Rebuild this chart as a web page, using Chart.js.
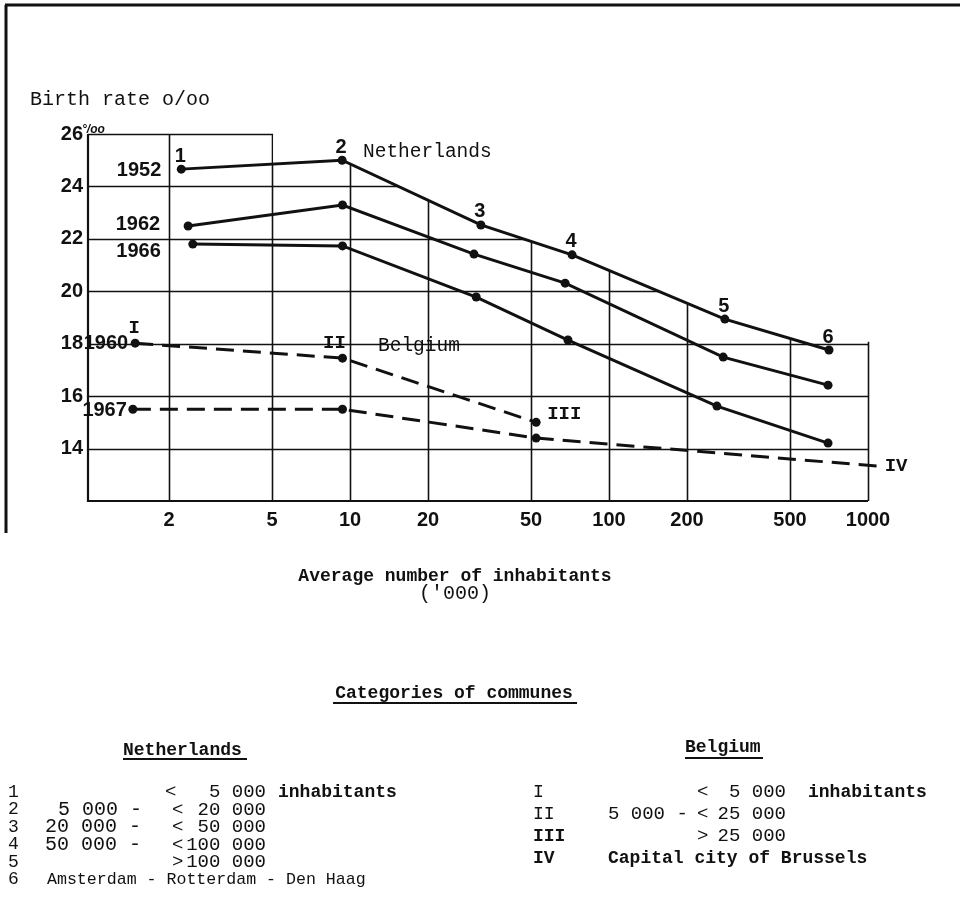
<!DOCTYPE html>
<html>
<head>
<meta charset="utf-8">
<script src="https://cdn.jsdelivr.net/npm/chart.js@4"></script>
<style>
  html, body { margin: 0; background: #fff; }
  canvas { display: block; }
</style>
</head>
<body>
<canvas id="birthChart" width="960" height="910"></canvas>
<script>
// x = average number of inhabitants ('000), y = birth rate per mille
const xTicks = [2, 5, 10, 20, 50, 100, 200, 500, 1000];

const nl1952X = [2.23, 9.32, 32.0, 72.0, 280, 707];
const nl1952Y = [24.66, 25.0, 22.53, 21.39, 18.94, 17.76];
const nl1962X = [2.37, 9.35, 30.1, 67.7, 276, 701];
const nl1962Y = [22.49, 23.29, 21.42, 20.31, 17.49, 16.42];
const nl1966X = [2.47, 9.35, 30.7, 69.4, 261, 701];
const nl1966Y = [21.8, 21.73, 19.78, 18.14, 15.62, 14.21];
const be1960X = [1.48, 9.35, 52.3];
const be1960Y = [18.02, 17.45, 15.0];
const be1967X = [1.45, 9.35, 52.3, 1090];
const be1967Y = [15.5, 15.5, 14.4, 13.33];

const nlCategories = ['1', '2', '3', '4', '5', '6'];
const beCategories = ['I', 'II', 'III', 'IV'];

const INK = '#111';
const MONO = "'Liberation Mono', 'DejaVu Sans Mono', monospace";
const NUM = "'Liberation Sans', Arial, sans-serif";

const pts = (xs, ys) => xs.map((x, i) => ({ x, y: ys[i] }));

function series(label, xs, ys, dashed) {
  return {
    label,
    data: pts(xs, ys),
    borderColor: INK,
    backgroundColor: INK,
    borderWidth: 3,
    borderDash: dashed ? [18, 9] : [],
    pointRadius: 4.5,
    pointBorderWidth: 0,
    pointBackgroundColor: INK,
    tension: 0,
    clip: false,
  };
}

// grid is only drawn below the 1952 curve plus the two framed boxes
const paperGrid = {
  id: 'paperGrid',
  beforeDraw(chart) {
    const { ctx } = chart;
    ctx.save();
    ctx.strokeStyle = INK;
    ctx.lineWidth = 3;
    ctx.beginPath();
    ctx.moveTo(5, 5); ctx.lineTo(960, 5);
    ctx.moveTo(6, 5); ctx.lineTo(6, 533);
    ctx.stroke();
    ctx.restore();
  },
  beforeDatasetsDraw(chart) {
    const { ctx, chartArea: a, scales: { x, y } } = chart;
    const top = chart.getDatasetMeta(0).data;
    const x5 = x.getPixelForValue(5);
    const x500 = x.getPixelForValue(500);
    const y18 = y.getPixelForValue(18);
    ctx.save();
    ctx.beginPath();
    ctx.rect(a.left - 2, a.top - 2, x5 - a.left + 3, a.bottom - a.top + 4);
    ctx.rect(x500 - 1, y18 - 2, a.right - x500 + 3, a.bottom - y18 + 4);
    ctx.moveTo(top[0].x, top[0].y);
    top.forEach(p => ctx.lineTo(p.x, p.y));
    ctx.lineTo(top[top.length - 1].x, a.bottom + 2);
    ctx.lineTo(top[0].x, a.bottom + 2);
    ctx.closePath();
    ctx.clip();
    ctx.strokeStyle = INK;
    ctx.lineWidth = 1.6;
    ctx.beginPath();
    for (let v = 14; v <= 26; v += 2) {
      const py = Math.round(y.getPixelForValue(v)) + 0.5;
      ctx.moveTo(a.left, py); ctx.lineTo(a.right, py);
    }
    xTicks.forEach(v => {
      const px = Math.round(x.getPixelForValue(v)) + 0.5;
      ctx.moveTo(px, a.top); ctx.lineTo(px, a.bottom);
    });
    ctx.stroke();
    ctx.restore();

    ctx.save();
    ctx.strokeStyle = INK;
    ctx.lineWidth = 2.2;
    ctx.beginPath();
    ctx.moveTo(a.left, a.top); ctx.lineTo(a.left, a.bottom);
    ctx.lineTo(a.right, a.bottom);
    ctx.stroke();
    ctx.restore();
  },
  afterDraw(chart) {
    const { ctx } = chart;
    const meta = i => chart.getDatasetMeta(i).data;
    const text = (s, px, py, font, align = 'left') => {
      ctx.font = font;
      ctx.textAlign = align;
      ctx.fillText(s, px, py);
    };
    ctx.save();
    ctx.fillStyle = INK;
    ctx.textBaseline = 'middle';

    const bold = 'bold 20px ' + NUM;
    // unit on the 26 tick
    text('°/oo', 82, 130, 'bold italic 12px ' + NUM);

    // year labels left of the first point of each series: [label, dataset, dx, dy]
    const years = [['1952', 0, -20, 1], ['1962', 1, -28, -2], ['1966', 2, -32, 7], ['1960', 3, -7, 0], ['1967', 4, -6, 1]];
    years.forEach(([lbl, di, dx, dy]) => {
      const p = meta(di)[0];
      text(lbl, p.x + dx, p.y + dy, bold, 'right');
    });

    // category numbers above the 1952 points
    meta(0).forEach((p, i) => text(nlCategories[i], p.x - 1, p.y - 13, 'bold 20px ' + NUM, 'center'));

    // Belgian categories
    const romanFont = 'bold 19px ' + MONO;
    const b60 = meta(3), b67 = meta(4);
    text(beCategories[0], b60[0].x - 1, b60[0].y - 15, romanFont, 'center');
    text(beCategories[1], b60[1].x - 8, b60[1].y - 15, romanFont, 'center');
    text(beCategories[2], b60[2].x + 11, b60[2].y - 8, romanFont);
    text(beCategories[3], b67[3].x + 7, b67[3].y, romanFont);

    // typewritten texts
    const tw = '19.5px ' + MONO;
    text('Birth rate o/oo', 30, 100, '20px ' + MONO);
    text('Netherlands', 363, 152, tw);
    text('Belgium', 378, 346, tw);

    const twb = 'bold 18px ' + MONO;
    const tn = '18px ' + MONO;
    const tnum = '20px ' + MONO;
    const tnum2 = '19px ' + MONO;
    text('Average number of inhabitants', 455, 576, twb, 'center');
    text("('000)", 455, 594, tnum, 'center');

    text('Categories of communes', 454, 693, twb, 'center');
    text('Netherlands', 123, 750, twb);
    text('Belgium', 685, 747, twb);
    ctx.fillRect(333, 702, 244, 2);
    ctx.fillRect(123, 758, 124, 2);
    ctx.fillRect(685, 757, 78, 2);

    const nlRows = [
      ['1', '', 0, '<', '5 000', 'inhabitants'],
      ['2', '5 000 -', 58, '<', '20 000', ''],
      ['3', '20 000 -', 45, '<', '50 000', ''],
      ['4', '50 000 -', 45, '<', '100 000', ''],
      ['5', '', 0, '>', '100 000', ''],
    ];
    const nlY = [792, 809.5, 827, 844.5, 862, 879.5];
    nlRows.forEach((r, i) => {
      const py = nlY[i];
      text(r[0], 8, py, tn);
      if (r[1]) text(r[1], r[2], py, tnum);
      text(r[3], r[4] === '5 000' ? 165 : 172, py, tnum2);
      text(r[4], 266, py, tnum2, 'right');
      if (r[5]) text(r[5], 278, py, twb);
    });
    text('6', 8, nlY[5], tn);
    text('Amsterdam - Rotterdam - Den Haag', 47, nlY[5], '16.6px ' + MONO);

    const beY = [792, 814, 836, 858];
    text('I', 533, beY[0], tn);
    text('<', 697, beY[0], tnum2);
    text('5 000', 786, beY[0], tnum2, 'right');
    text('inhabitants', 808, beY[0], twb);
    text('II', 533, beY[1], tn);
    text('5 000 -', 608, beY[1], tnum2);
    text('<', 697, beY[1], tnum2);
    text('25 000', 786, beY[1], tnum2, 'right');
    text('III', 533, beY[2], twb);
    text('>', 697, beY[2], tnum2);
    text('25 000', 786, beY[2], tnum2, 'right');
    text('IV', 533, beY[3], twb);
    text('Capital city of Brussels', 608, beY[3], twb);
    ctx.restore();
  }
};

new Chart(document.getElementById('birthChart'), {
  type: 'line',
  data: {
    datasets: [
      series('Netherlands 1952', nl1952X, nl1952Y, false),
      series('Netherlands 1962', nl1962X, nl1962Y, false),
      series('Netherlands 1966', nl1966X, nl1966Y, false),
      series('Belgium 1960', be1960X, be1960Y, true),
      series('Belgium 1967', be1967X, be1967Y, true),
    ],
  },
  options: {
    responsive: false,
    animation: false,
    devicePixelRatio: 1,
    layout: { padding: { top: 134, right: 92, bottom: 369, left: 0 } },
    plugins: { legend: { display: false }, tooltip: { enabled: false } },
    scales: {
      x: {
        type: 'logarithmic',
        min: 0.973,
        max: 1000,
        grid: { display: false, drawTicks: false },
        border: { display: false },
        afterBuildTicks: s => { s.ticks = xTicks.map(v => ({ value: v })); },
        afterFit: s => { s.height = 40; },
        ticks: {
          autoSkip: false,
          maxRotation: 0,
          padding: 7,
          color: INK,
          font: { family: NUM, size: 20, weight: 'bold' },
          callback: v => String(v),
        },
      },
      y: {
        min: 12,
        max: 26,
        grid: { display: false, drawTicks: false },
        border: { display: false },
        afterFit: s => { s.width = 88; },
        ticks: {
          stepSize: 2,
          padding: 5,
          color: INK,
          font: { family: NUM, size: 20, weight: 'bold' },
          callback: v => (v === 12 ? '' : String(v)),
        },
      },
    },
  },
  plugins: [paperGrid],
});
</script>
</body>
</html>
